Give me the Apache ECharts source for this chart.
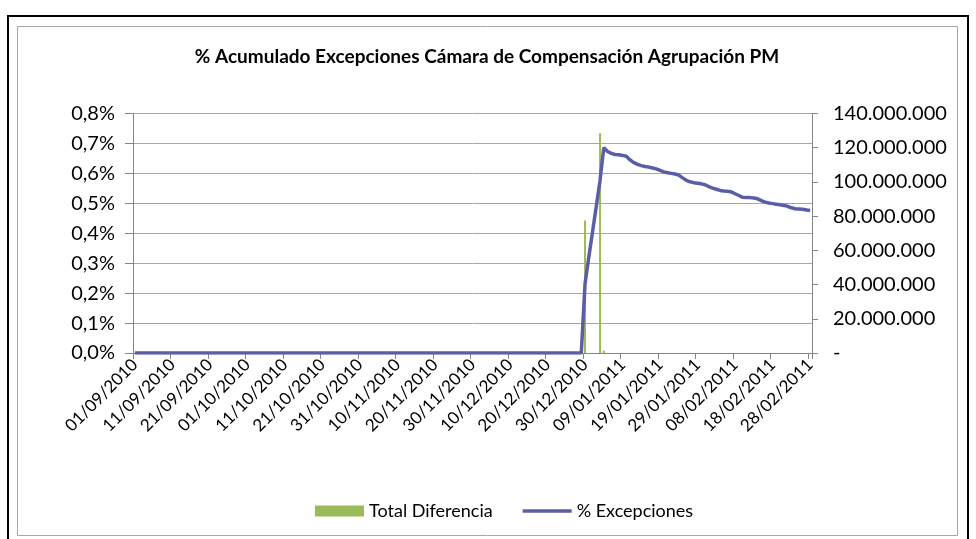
<!DOCTYPE html>
<html>
<head>
<meta charset="utf-8">
<script src="https://cdn.jsdelivr.net/npm/echarts@6/dist/echarts.min.js"></script>
<style>
html,body{margin:0;padding:0;background:#fff;}
#chart{width:976px;height:539px;}
</style>
</head>
<body>
<div id="chart"></div>
<script>
// Daily categories 01/09/2010 .. 28/02/2011
const startDate = [2010, 8, 1];
const dayCount = 181;
const categories = [];
for (let i = 0; i < dayCount; i++) {
  const d = new Date(Date.UTC(startDate[0], startDate[1], startDate[2] + i));
  const dd = String(d.getUTCDate()).padStart(2, '0');
  const mm = String(d.getUTCMonth() + 1).padStart(2, '0');
  categories.push(dd + '/' + mm + '/' + d.getUTCFullYear());
}

// % Excepciones (left axis, in %), one value per day
const pctExcepciones = [
  0,0,0,0,0,0,0,0,0,0, 0,0,0,0,0,0,0,0,0,0,
  0,0,0,0,0,0,0,0,0,0, 0,0,0,0,0,0,0,0,0,0,
  0,0,0,0,0,0,0,0,0,0, 0,0,0,0,0,0,0,0,0,0,
  0,0,0,0,0,0,0,0,0,0, 0,0,0,0,0,0,0,0,0,0,
  0,0,0,0,0,0,0,0,0,0, 0,0,0,0,0,0,0,0,0,0,
  0,0,0,0,0,0,0,0,0,0, 0,0,0,0,0,0,0,0,0,0,
  0.231,0.320,0.405,0.490,0.577,0.686,0.673,0.667,0.663,0.662,
  0.660,0.657,0.645,0.636,0.630,0.626,0.623,0.621,0.618,0.615,
  0.610,0.605,0.602,0.600,0.598,0.594,0.585,0.577,0.572,0.569,
  0.567,0.565,0.562,0.556,0.551,0.547,0.543,0.541,0.540,0.538,
  0.532,0.526,0.520,0.519,0.519,0.518,0.515,0.509,0.504,0.501,
  0.499,0.497,0.495,0.493,0.490,0.485,0.482,0.481,0.480,0.478,
  0.476
];

// Total Diferencia (right axis) – only non-zero days
const barDates = ['30/12/2010', '03/01/2011', '04/01/2011'];
const barValues = [77500000, 128500000, 1400000];

const leftTicks = [0, 0.1, 0.2, 0.3, 0.4, 0.5, 0.6, 0.7, 0.8];
const rightTicks = [0, 20000000, 40000000, 60000000, 80000000, 100000000, 120000000, 140000000];

const titleText = '% Acumulado Excepciones Cámara de Compensación Agrupación PM';
const seriesNames = ['Total Diferencia', '% Excepciones'];

const barData = barDates.map((d, i) => [d, barValues[i]]);

const FONT = 'Lato';
const LINE_COLOR = '#5B5EA6';
const chart = echarts.init(document.getElementById('chart'), null, {renderer: 'canvas'});

function fmtThousands(v) {
  if (v === 0) return '-';
  return String(Math.round(v)).replace(/\B(?=(\d{3})+(?!\d))/g, '.');
}

chart.setOption({
  animation: false,
  backgroundColor: '#fff',
  textStyle: {fontFamily: FONT},
  graphic: [
    {type: 'rect', shape: {x: 8, y: 16, width: 960, height: 530},
     style: {fill: 'none', stroke: '#000', lineWidth: 2}, silent: true},
    {type: 'rect', shape: {x: 17.5, y: 26.5, width: 940, height: 509},
     style: {fill: 'none', stroke: '#a6a6a6', lineWidth: 1}, silent: true}
  ],
  title: {
    text: titleText,
    left: 482,
    textAlign: 'center',
    top: 42,
    textStyle: {fontFamily: FONT, fontWeight: 'bold', fontSize: 19, color: '#000'}
  },
  legend: {
    data: [
      {name: seriesNames[0], icon: 'rect'},
      {name: seriesNames[1], icon: 'path://M0,0 L50,0 L50,3.5 L0,3.5 Z'}
    ],
    left: 310,
    top: 497,
    itemWidth: 49,
    itemHeight: 11,
    itemGap: 30,
    textStyle: {fontFamily: FONT, fontSize: 18, color: '#000'}
  },
  grid: {left: 133, right: 164, top: 113.5, bottom: 186, containLabel: false},
  xAxis: {
    type: 'category',
    data: categories,
    boundaryGap: true,
    axisLine: {lineStyle: {color: '#868686', width: 1}},
    axisTick: {show: true, interval: 9, length: 6, lineStyle: {color: '#868686'}},
    axisLabel: {interval: 9, rotate: 45, fontSize: 17, color: '#000', fontFamily: FONT, margin: 9},
    splitLine: {show: false}
  },
  yAxis: [
    {
      type: 'value', min: leftTicks[0], max: leftTicks[leftTicks.length - 1], interval: 0.1,
      axisLine: {show: true, lineStyle: {color: '#868686'}},
      axisTick: {show: true, length: 8, lineStyle: {color: '#868686'}},
      axisLabel: {fontSize: 20, color: '#000', fontFamily: FONT, margin: 18,
        formatter: v => v.toFixed(1).replace('.', ',') + '%'},
      splitLine: {show: true, lineStyle: {color: '#a6a6a6', width: 1}}
    },
    {
      type: 'value', min: rightTicks[0], max: rightTicks[rightTicks.length - 1], interval: 20000000,
      position: 'right',
      axisLine: {show: true, lineStyle: {color: '#868686'}},
      axisTick: {show: true, length: 6, lineStyle: {color: '#868686'}},
      axisLabel: {fontSize: 20, color: '#000', fontFamily: FONT, margin: 21, align: 'left',
        formatter: fmtThousands},
      splitLine: {show: false}
    }
  ],
  series: [
    {
      name: seriesNames[0], type: 'bar', yAxisIndex: 1, data: barData,
      barWidth: 2, itemStyle: {color: '#9BBB59'}, z: 2
    },
    {
      name: seriesNames[1], type: 'line', yAxisIndex: 0, data: pctExcepciones,
      symbol: 'none', lineStyle: {color: LINE_COLOR, width: 3.5}, itemStyle: {color: LINE_COLOR}, z: 3
    }
  ]
});
</script>
</body>
</html>
